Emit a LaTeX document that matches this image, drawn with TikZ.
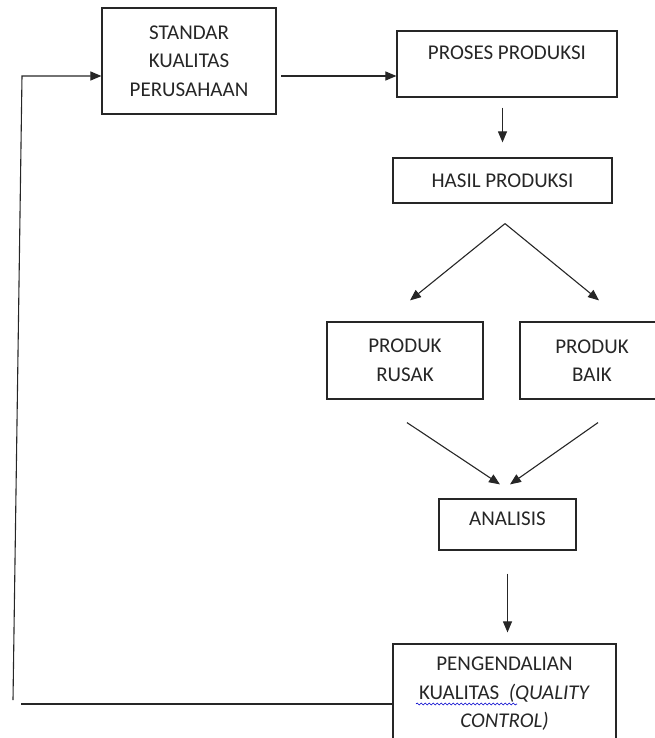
\documentclass[tikz,border=0pt]{standalone}
\usepackage{fontspec}
\setmainfont{Carlito}
\usetikzlibrary{arrows.meta,decorations.pathmorphing}

\tikzset{
	kotak/.style={draw=black!85, line width=1.2pt, align=center, inner sep=0pt,
		font=\fontsize{21pt}{28.5pt}\selectfont, text=black!85},
	panah/.style={line width=1.1pt, draw=black!85, -{Triangle[length=11pt,width=9pt]}},
	garis/.style={line width=1.1pt, draw=black!85}
}

\begin{document}
\begin{tikzpicture}[x=1pt, y=-1pt]
		\useasboundingbox (0,0) rectangle (655,738);
		% kotak-kotak
		\node[kotak, minimum width=174pt, minimum height=106pt] (standar) at (189,61) {STANDAR\\KUALITAS\\PERUSAHAAN};
		\node[kotak, minimum width=220pt, minimum height=66pt, text height=14pt, text depth=22.4pt] (proses) at (507,64) {PROSES PRODUKSI};
		\node[kotak, minimum width=219pt, minimum height=45pt] (hasil) at (502.5,180.5) {HASIL PRODUKSI};
		\node[kotak, minimum width=156pt, minimum height=77pt] (rusak) at (405,360.5) {PRODUK\\RUSAK};
		\node[kotak, minimum width=144pt, minimum height=77pt] (baik) at (592,360.5) {PRODUK\\BAIK};
		\node[kotak, minimum width=137pt, minimum height=51pt, text height=14pt, text depth=11.4pt] (analisis) at (507.5,524.5) {ANALISIS};
		\node[kotak, minimum width=223pt, minimum height=100pt] (pengendalian) at (504.5,694) {PENGENDALIAN\\KUALITAS\ \ \textit{(QUALITY}\\\textit{CONTROL)}};
		\draw[blue!80!black, line width=0.6pt, decorate, decoration={snake, segment length=4pt, amplitude=1pt}] (416,704) -- (517,704);
		% alur utama
		\coordinate (keluar) at (281,76);
		\draw[panah] (keluar) -- (keluar -| proses.west);
		\draw[panah] ([yshift=-10pt]hasil.north |- proses.south) -- ([yshift=15pt]hasil.north);
		\coordinate (cabang) at ([xshift=2.5pt,yshift=-20pt]hasil.south);
		\draw[panah] (cabang) -- ([xshift=5pt,yshift=21pt]rusak.north);
		\draw[panah] (cabang) -- ([xshift=7pt,yshift=21pt]baik.north);
		\draw[panah] ([xshift=2pt,yshift=-23pt]rusak.south) -- ([xshift=-7.5pt,yshift=14pt]analisis.north);
		\draw[panah] ([xshift=6pt,yshift=-23pt]baik.south) -- ([xshift=2.5pt,yshift=14pt]analisis.north);
		\draw[panah] ([yshift=-23pt]analisis.south) -- ([yshift=11pt]analisis.south |- pengendalian.north);
		% umpan balik
		\coordinate (balikbawah) at (21,704);
		\coordinate (sudutbawah) at (13,700);
		\coordinate (sudutatas) at (22,76);
		\draw[garis] ([yshift=-10pt]pengendalian.west) -- (balikbawah);
		\draw[panah] (sudutbawah) -- (sudutatas) -- (sudutatas -| standar.west);
\end{tikzpicture}
\end{document}
